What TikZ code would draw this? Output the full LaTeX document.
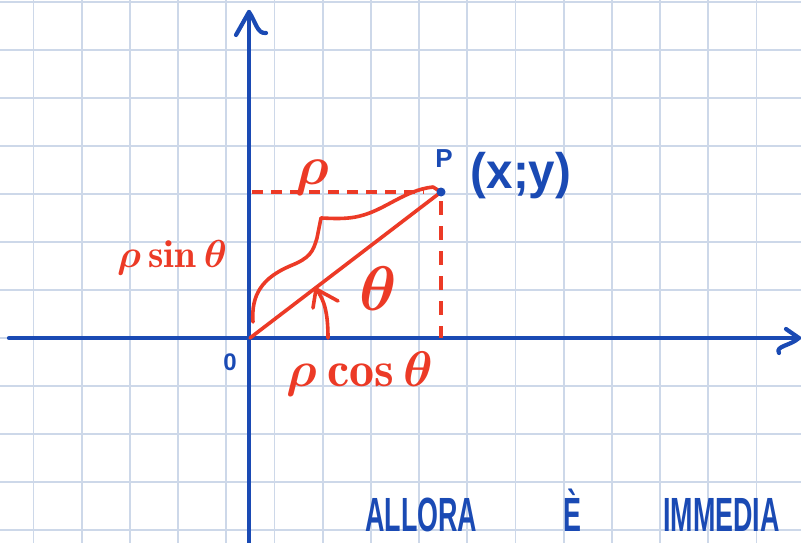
\documentclass[tikz,border=0pt]{standalone}
\usepackage{fontspec}
\newfontfamily\handfont{Liberation Sans}
\usepackage{amsmath}
\definecolor{gridc}{RGB}{205,216,233}
\definecolor{penblue}{RGB}{26,74,180}
\definecolor{penred}{RGB}{236,58,38}
\tikzset{
  gridline/.style={draw=gridc, line width=1.7pt},
  axisline/.style={draw=penblue, line width=4.2pt, line cap=round, line join=round},
  redline/.style={draw=penred, line width=3.6pt, line cap=round, line join=round},
  reddash/.style={draw=penred, line width=3.4pt, dash pattern=on 11pt off 8pt},
  reddashv/.style={draw=penred, line width=3.4pt, dash pattern=on 14pt off 11pt},
  bluetext/.style={text=penblue, inner sep=0pt},
  redtext/.style={text=penred, inner sep=0pt},
}
\begin{document}
\begin{tikzpicture}[x=1pt,y=-1pt]
\useasboundingbox (0,0) rectangle (801,543);
\fill[white] (0,0) rectangle (801,543);
\begin{scope}
\clip (0,0) rectangle (801,543);
% grid
\foreach \k in {0,...,16} {\draw[gridline] ({33.5+48.2*\k},0) -- ({33.5+48.2*\k},543);}
\foreach \k in {0,...,11} {\draw[gridline] (0,{2+48*\k}) -- (801,{2+48*\k});}

% key points
\coordinate (O) at (250,338);
\coordinate (P) at (441,192);
\coordinate (Py) at (252,192);
\coordinate (Px) at (441,338);
\coordinate (xstart) at (9,338);
\coordinate (xtip) at (799,338);
\coordinate (ybot) at (249,543);
\coordinate (ytip) at (249,12);

% axes
\draw[axisline] (xstart) -- (xtip);
\draw[axisline] (786,329) -- (xtip) .. controls (790,346) and (775,346) .. (779,353);
\draw[axisline] (ybot) -- (ytip);
\draw[axisline] (236,35) -- (ytip) .. controls (256,22) and (257,34) .. (266,33);

% red construction
\draw[reddash] (Py) -- (424,192);
\draw[reddashv] (441,201) -- (Px);
\draw[redline] (O) -- (P);
% brace
\draw[redline] (253,322) .. controls (251,295) and (262,278) .. (290,266)
  .. controls (310,258) and (313,252) .. (317,238) -- (321,218)
  .. controls (326,218) and (345,220) .. (360,216)
  .. controls (385,210) and (405,190) .. (433,187) -- (P);
% angle arrow
\coordinate (atip) at (316,289);
\draw[redline] (328,338) .. controls (328,315) and (325,300) .. (atip);
\draw[redline] (313,308) -- (atip) -- (338,301);

% point P
\fill[penblue] (P) circle (4.5pt);

% labels
\node[redtext] (rho) at (312,178) {\scalebox{5.5}{\boldmath$\rho$}};
\node[redtext] (sin) at (172,258) {\scalebox{3.9}{\boldmath$\rho\,\mathrm{sin}\,\theta$}};
\node[redtext] (cos) at (360,374) {\scalebox{5}{\boldmath$\rho\,\mathrm{cos}\,\theta$}};
\node[redtext] (th) at (378,289) {\scalebox{6.3}{\boldmath$\theta$}};
\node[bluetext, font=\handfont\bfseries\fontsize{24}{24}\selectfont] (zero) at (230,362) {0};
\node[bluetext, font=\handfont\bfseries\fontsize{26}{26}\selectfont] (Plab) at (444,159) {P};
\node[bluetext, font=\handfont\bfseries\fontsize{50}{50}\selectfont] (xy) at (521,176) {\scalebox{0.95}[1]{(x;y)}};
\node[bluetext, font=\handfont\bfseries\fontsize{48}{48}\selectfont, anchor=south west] (allora) at (365,532) {\scalebox{0.56}[1]{ALLORA}};
\node[bluetext, font=\handfont\bfseries\fontsize{48}{48}\selectfont, anchor=south west] (e) at (563,532) {\scalebox{0.56}[1]{È}};
\node[bluetext, font=\handfont\bfseries\fontsize{48}{48}\selectfont, anchor=south west] (imm) at (663,532) {\scalebox{0.56}[1]{IMMEDIA}};
\end{scope}
\end{tikzpicture}
\end{document}
